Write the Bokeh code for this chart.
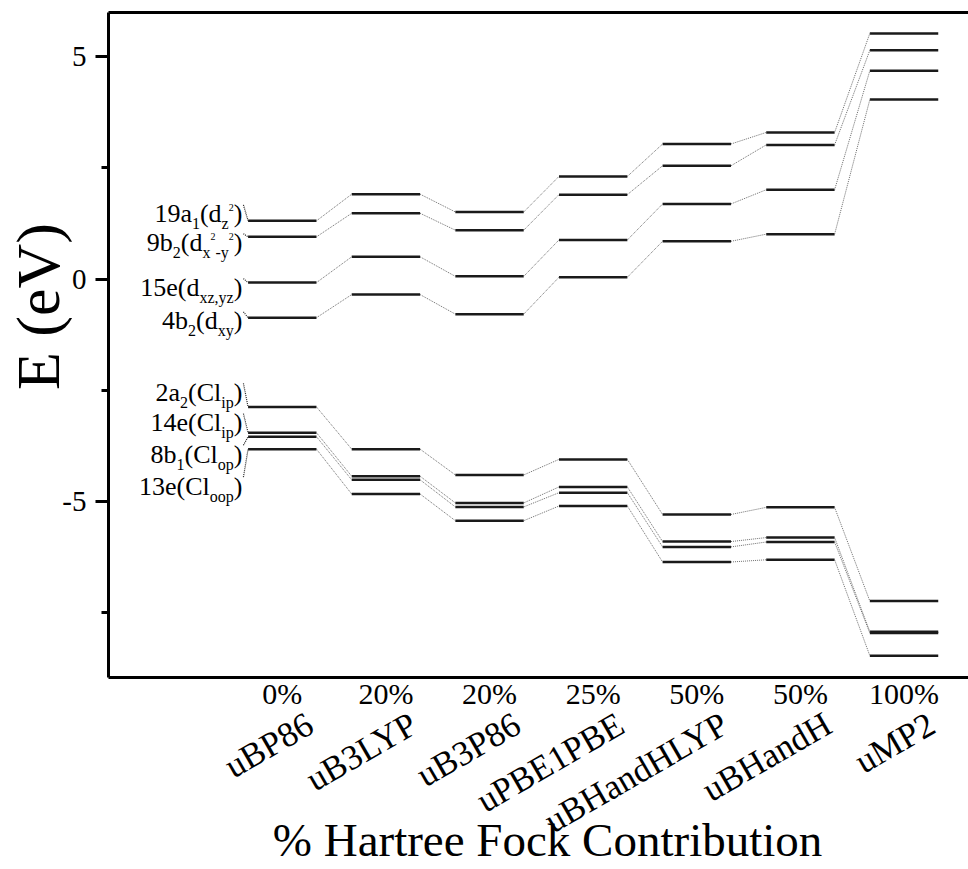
import numpy as np
from bokeh.plotting import figure
from bokeh.models import ColumnDataSource, FixedTicker, LinearAxis, Range1d
from bokeh.core.properties import value
from bokeh.embed import file_html
from bokeh.resources import INLINE

# ---------------- data ----------------
methods = ["uBP86", "uB3LYP", "uB3P86", "uPBE1PBE", "uBHandHLYP", "uBHandH", "uMP2"]
hf_percent = ["0%", "20%", "20%", "25%", "50%", "50%", "100%"]

orbital_labels = [
    "19a|_1|(d|_z|^2|)",
    "9b|_2|(d|_x|^2|_-y|^2|)",
    "15e(d|_xz,yz|)",
    "4b|_2|(d|_xy|)",
    "2a|_2|(Cl|_ip|)",
    "14e(Cl|_ip|)",
    "8b|_1|(Cl|_op|)",
    "13e(Cl|_oop|)",
]

# orbital energies (eV) for each method, in the order of `methods`
e_19a1 = [1.31, 1.91, 1.51, 2.31, 3.04, 3.30, 5.53]
e_9b2 = [0.95, 1.48, 1.10, 1.90, 2.55, 3.02, 5.15]
e_15e = [-0.08, 0.50, 0.06, 0.88, 1.69, 2.01, 4.69]
e_4b2 = [-0.87, -0.35, -0.79, 0.04, 0.85, 1.01, 4.04]
e_2a2 = [-2.88, -3.83, -4.41, -4.06, -5.30, -5.14, -7.25]
e_14e = [-3.46, -4.44, -5.04, -4.68, -5.91, -5.82, -7.94]
e_8b1 = [-3.55, -4.52, -5.13, -4.81, -6.03, -5.92, -7.97]
e_13e = [-3.83, -4.84, -5.44, -5.11, -6.37, -6.32, -8.48]
series = [e_19a1, e_9b2, e_15e, e_4b2, e_2a2, e_14e, e_8b1, e_13e]

y_ticks = [-5, 0, 5]
y_minor_ticks = [-7.5, -2.5, 2.5]
x_title = "% Hartree Fock Contribution"
y_title = "E (eV)"

# ---------------- layout constants ----------------
X0, X1 = -1.677, 6.622
Y0, Y1 = -8.97, 6.0
HALF = 0.33            # half width of a level bar (x units)
LABEL_X = -0.385       # right end of the orbital labels (x units)
label_y = [1.47, 0.82, -0.19, -0.94, -2.55, -3.23, -3.94, -4.66]  # label baselines
METHOD_SHIFT = 0.27    # method-name anchor relative to level centre (x units)
XT_POS = 2.56          # centre of x title (x units)
YT_POS = -0.62         # centre of y title (y units)
FONT = "Liberation Serif"
MAIN, SUB, SUP = 26, 16, 10
SUB_DY, SUP_DY = 10, -6

xpos = np.arange(len(methods), dtype=float)

p = figure(width=968, height=869, output_backend="svg", toolbar_location=None,
           x_range=Range1d(X0, X1), y_range=Range1d(Y0, Y1),
           min_border_left=108, min_border_right=0, min_border_top=12,
           min_border_bottom=192, x_axis_location=None, y_axis_location=None)
p.extra_x_ranges = {"m": Range1d(X0 - METHOD_SHIFT, X1 - METHOD_SHIFT),
                    "t": Range1d(X0 - XT_POS, X1 - XT_POS)}
p.extra_y_ranges = {"e": Range1d(Y0 - YT_POS, Y1 - YT_POS)}
p.outline_line_color = None
p.grid.visible = False
p.background_fill_color = "white"
p.border_fill_color = "white"


def bare(ax):
    ax.axis_line_color = None
    ax.major_tick_line_color = None
    ax.minor_tick_line_color = None
    ax.major_label_text_font = FONT
    ax.major_label_text_color = "black"
    return ax


# ---------- axes ----------
yax = LinearAxis(ticker=FixedTicker(ticks=y_ticks, minor_ticks=y_minor_ticks))
yax.axis_line_width = 3
yax.major_tick_line_width = 3
yax.minor_tick_line_width = 3
yax.major_tick_out = 13
yax.major_tick_in = 0
yax.minor_tick_out = 7
yax.minor_tick_in = 0
yax.major_label_standoff = 9
yax.major_label_text_font = FONT
yax.major_label_text_font_size = "29px"
yax.major_label_text_color = "black"
yax.major_label_overrides = {-5: "-5", 0: "0", 5: "5"}
p.add_layout(yax, "left")

eax = bare(LinearAxis(y_range_name="e", ticker=FixedTicker(ticks=[0])))
eax.major_label_overrides = {0: y_title}
eax.major_label_orientation = "parallel"
eax.major_label_text_font_size = "62px"
eax.major_label_standoff = -19
p.add_layout(eax, "left")

xax = LinearAxis(ticker=FixedTicker(ticks=list(range(len(methods)))))
xax.axis_line_width = 3
xax.major_tick_line_color = None
xax.minor_tick_line_color = None
xax.major_label_overrides = {i: s for i, s in enumerate(hf_percent)}
xax.major_label_text_font = FONT
xax.major_label_text_font_size = "30px"
xax.major_label_text_color = "black"
xax.major_label_standoff = -7
p.add_layout(xax, "below")

max_ = bare(LinearAxis(x_range_name="m", ticker=FixedTicker(ticks=list(range(len(methods))))))
max_.major_label_overrides = {i: s for i, s in enumerate(methods)}
max_.major_label_orientation = np.pi / 6
max_.major_label_text_font_size = "35px"
max_.major_label_standoff = 3
p.add_layout(max_, "below")

tax = bare(LinearAxis(x_range_name="t", ticker=FixedTicker(ticks=[0])))
tax.major_label_overrides = {0: x_title}
tax.major_label_text_font_size = "47px"
tax.major_label_standoff = -53
p.add_layout(tax, "below")

top = LinearAxis(ticker=FixedTicker(ticks=[]))
top.axis_line_width = 3
top.major_tick_line_color = None
top.minor_tick_line_color = None
top.major_label_text_font_size = "0px"
p.add_layout(top, "above")

# ---------- levels ----------
lx0, lx1, ly = [], [], []
cx0, cx1, cy0, cy1 = [], [], [], []
for s in series:
    for i, e in enumerate(s):
        lx0.append(xpos[i] - HALF); lx1.append(xpos[i] + HALF); ly.append(e)
        if i + 1 < len(s):
            cx0.append(xpos[i] + HALF); cx1.append(xpos[i + 1] - HALF)
            cy0.append(e); cy1.append(s[i + 1])

p.segment(x0="x0", x1="x1", y0="y", y1="y",
          source=ColumnDataSource(dict(x0=lx0, x1=lx1, y=ly)),
          line_color="#1a1a1a", line_width=2.5)
p.segment(x0="x0", x1="x1", y0="y0", y1="y1",
          source=ColumnDataSource(dict(x0=cx0, x1=cx1, y0=cy0, y1=cy1)),
          line_color="#6e6e6e", line_width=1, line_dash="1 1")

# leaders from labels to first levels
p.segment(x0=[LABEL_X + 0.01] * len(series), x1=[xpos[0] - HALF] * len(series),
          y0=[v + 0.2 for v in label_y], y1=[s[0] for s in series],
          line_color="#222222", line_width=1.2, line_dash="1 1")

# ---------- orbital labels (text with sub/superscripts) ----------
W = {**{d: 500 for d in "0123456789"}, "a": 444, "b": 500, "d": 500, "e": 444,
     "i": 278, "l": 278, "o": 500, "p": 500, "x": 500, "y": 500, "z": 444,
     "C": 667, "(": 333, ")": 333, ",": 250, "-": 333}


def tw(s, size):
    return sum(W.get(c, 500) for c in s) * size / 1000.0


tx, ty, tt, tdx, tdy, tsz = [], [], [], [], [], []
for lab, yl in zip(orbital_labels, label_y):
    parsed = []
    for seg in lab.split("|"):
        if seg.startswith("_"):
            parsed.append((seg[1:], SUB, SUB_DY))
        elif seg.startswith("^"):
            parsed.append((seg[1:], SUP, SUP_DY))
        else:
            parsed.append((seg, MAIN, 0))
    cur = -sum(tw(t, sz) for t, sz, _ in parsed)
    for t, sz, dy in parsed:
        tx.append(LABEL_X); ty.append(yl); tt.append(t)
        tdx.append(cur); tdy.append(dy); tsz.append(f"{sz}px")
        cur += tw(t, sz)

p.text(x="x", y="y", text="text", x_offset="dx", y_offset="dy",
       text_font_size="size", text_font=value(FONT), text_color="black",
       text_align="left", text_baseline="alphabetic",
       source=ColumnDataSource(dict(x=tx, y=ty, text=tt, dx=tdx, dy=tdy, size=tsz)))

open("out.html", "w").write(file_html(p, INLINE))
